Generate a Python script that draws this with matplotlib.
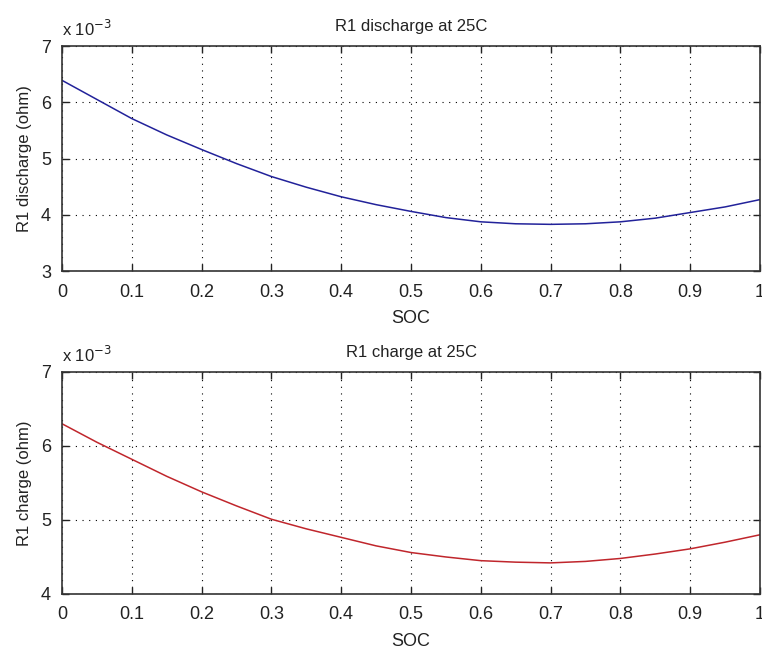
import matplotlib
matplotlib.use('Agg')
import matplotlib.pyplot as plt
from matplotlib.ticker import FuncFormatter

# SOC sample points and resistance readings (ohm)
soc = [0.0, 0.05, 0.1, 0.15, 0.2, 0.25, 0.3, 0.35, 0.4, 0.45, 0.5,
       0.55, 0.6, 0.65, 0.7, 0.75, 0.8, 0.85, 0.9, 0.95, 1.0]
r1_discharge = [6.39e-3, 6.05e-3, 5.71e-3, 5.42e-3, 5.16e-3, 4.91e-3, 4.68e-3,
                4.49e-3, 4.32e-3, 4.18e-3, 4.06e-3, 3.95e-3, 3.875e-3, 3.84e-3,
                3.83e-3, 3.84e-3, 3.875e-3, 3.94e-3, 4.04e-3, 4.14e-3, 4.27e-3]
r1_charge = [6.30e-3, 6.05e-3, 5.82e-3, 5.59e-3, 5.38e-3, 5.19e-3, 5.01e-3,
             4.88e-3, 4.765e-3, 4.65e-3, 4.56e-3, 4.50e-3, 4.45e-3, 4.43e-3,
             4.42e-3, 4.44e-3, 4.48e-3, 4.54e-3, 4.61e-3, 4.70e-3, 4.80e-3]

xticks = [0, 0.1, 0.2, 0.3, 0.4, 0.5, 0.6, 0.7, 0.8, 0.9, 1]
xticklabels = ['0', '0.1', '0.2', '0.3', '0.4', '0.5', '0.6', '0.7', '0.8', '0.9', '1']

plt.rcParams['font.family'] = ['Liberation Sans', 'DejaVu Sans']

fig = plt.figure(figsize=(7.62, 6.52), dpi=100)
fig.patch.set_facecolor('white')

panels = [
    # (rect, y data, colour, title, ylabel, ylim, yticks)
    ([0.0814, 0.5843, 0.916, 0.3451], r1_discharge, '#22229a', 'R1 discharge at 25C',
     'R1 discharge (ohm)', (3e-3, 7e-3), [3e-3, 4e-3, 5e-3, 6e-3, 7e-3]),
    ([0.0814, 0.0890, 0.916, 0.3405], r1_charge, '#c0262c', 'R1 charge at 25C',
     'R1 charge (ohm)', (4e-3, 7e-3), [4e-3, 5e-3, 6e-3, 7e-3]),
]

for rect, ydata, col, title, ylabel, ylim, yticks in panels:
    ax = fig.add_axes(rect)
    ax.plot(soc, ydata, color=col, lw=1.1)
    ax.set_xlim(0, 1)
    ax.set_ylim(*ylim)
    ax.set_xticks(xticks)
    ax.set_xticklabels(xticklabels)
    ax.set_yticks(yticks)
    ax.yaxis.set_major_formatter(FuncFormatter(lambda v, p: '%d' % round(v * 1e3)))
    ax.grid(True, color='black', linestyle=(0, (1, 5)), linewidth=0.8)
    ax.tick_params(direction='in', length=5, width=1, top=True, right=True,
                   labelsize=13, colors='#222222')
    ax.tick_params(axis='x', pad=9)
    ax.tick_params(axis='y', pad=8)
    for sp in ax.spines.values():
        sp.set_color('#333333')
        sp.set_linewidth(1.2)
    ax.set_title(title, fontsize=12, color='#222222', pad=11)
    ax.set_xlabel('SOC', fontsize=13, color='#222222', labelpad=7)
    ax.set_ylabel(ylabel, fontsize=12, color='#222222', labelpad=6)
    ax.text(0.0, 1.03, r'x 10$^{-3}$', transform=ax.transAxes, fontsize=12,
            color='#222222', ha='left', va='bottom')

fig.savefig('out.png', dpi=100, facecolor='white')
